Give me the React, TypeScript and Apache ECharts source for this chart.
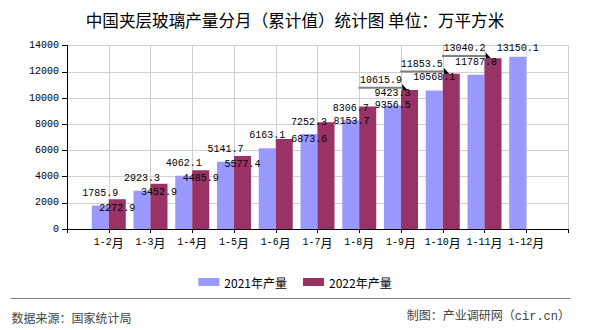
import React, { useEffect, useRef } from "react";
import * as echarts from "echarts";

// ---- data ----
const categories = ["", "1-2月", "1-3月", "1-4月", "1-5月", "1-6月", "1-7月", "1-8月", "1-9月", "1-10月", "1-11月", "1-12月", ""];
const values2021 = [null, 1785.9, 2923.3, 4062.1, 5141.7, 6163.1, 7252.3, 8306.7, 9423.3, 10568.1, 11787.8, 13150.1, null];
const values2022 = [null, 2272.9, 3452.9, 4485.9, 5577.4, 6873.6, 8153.7, 9356.5, 10615.9, 11853.5, 13040.2, null, null];
const seriesNames = ["2021年产量", "2022年产量"];
const yMin = 0;
const yMax = 14000;
const yStep = 2000;
const titleText = "中国夹层玻璃产量分月（累计值）统计图 单位：万平方米";
const sourceText = "数据来源：国家统计局";
const creditText = "制图：产业调研网（cir.cn）";

// ---- label placement (style, not data): [dx, dy] from bar-top centre ----
const shiftA: number[][] = [[0, 0], [0, -12.5], [0, -12.5], [0, -12.5], [0, -12.5], [0, -12.5], [0, -12], [0, -12], [0, -12.5], [0, -13], [0, -12.5], [0, -8.5], [0, 0]];
const shiftB: number[][] = [[0, 0], [0, 9], [0, 8.5], [0, 8.7], [0, 8.7], [25, 0.3], [25.5, -1], [25, -0.8], [-28.5, -9], [-29.5, -8.8], [-28.5, -9.3], [0, 0], [0, 0]];
const leaderCats = [8, 9, 10];

const BAR_W = 17;
const MONO = "'Liberation Mono', 'DejaVu Sans Mono', monospace";
const CJK = "'Noto Sans CJK SC', sans-serif";

function buildData(vals: (number | null)[], shifts: number[][]) {
  return vals.map((v, i) =>
    v == null
      ? null
      : {
          value: v,
          label: {
            position: [BAR_W / 2 + shifts[i][0], shifts[i][1]],
          },
        }
  );
}

export default function App() {
  const ref = useRef<HTMLDivElement>(null);
  useEffect(() => {
    if (!ref.current) return;
    const chart = echarts.init(ref.current, undefined, { renderer: "svg" });
    const labelBase = {
      show: true,
      align: "center",
      verticalAlign: "middle",
      fontFamily: MONO,
      fontSize: 10,
      color: "#000",
    };
    chart.setOption({
      animation: false,
      backgroundColor: "#fff",
      title: {
        text: titleText,
        left: "center",
        top: 7,
        textStyle: { fontFamily: CJK, fontSize: 16.6, fontWeight: "normal", color: "#000" },
      },
      legend: {
        data: seriesNames,
        left: "center",
        top: 271,
        itemWidth: 21,
        itemHeight: 8,
        itemGap: 16,
        icon: "rect",
        textStyle: { fontFamily: CJK, fontSize: 12, color: "#000" },
      },
      grid: { left: 67, right: 22, top: 45.67, bottom: 101, containLabel: false },
      xAxis: {
        type: "category",
        data: categories,
        boundaryGap: false,
        axisLine: { show: true, lineStyle: { color: "#000", width: 1 } },
        axisTick: { show: true, length: 4, interval: 0, lineStyle: { color: "#000" } },
        splitLine: { show: true, interval: 0, lineStyle: { color: "#d0d0d0", width: 1 } },
        axisLabel: {
          interval: 0,
          margin: 7,
          formatter: (v: string) => {
            if (!v) return "";
            const head = v.slice(0, -1);
            return "{a|" + head + "}{b|月}";
          },
          rich: {
            a: { fontFamily: MONO, fontSize: 10, color: "#000" },
            b: { fontFamily: CJK, fontSize: 12, color: "#000" },
          },
        },
      },
      yAxis: {
        type: "value",
        min: yMin,
        max: yMax,
        interval: yStep,
        axisLine: { show: true, lineStyle: { color: "#000", width: 1 } },
        axisTick: { show: true, length: 5, lineStyle: { color: "#000" } },
        splitLine: { show: true, lineStyle: { color: "#d0d0d0", width: 1 } },
        axisLabel: { fontFamily: MONO, fontSize: 10, color: "#000", margin: 8, formatter: (v: number) => String(v) },
      },
      series: [
        {
          name: seriesNames[0],
          type: "bar",
          data: buildData(values2021, shiftA),
          barWidth: BAR_W,
          barGap: "0%",
          itemStyle: { color: "#9999FF" },
          label: labelBase,
        },
        {
          name: seriesNames[1],
          type: "bar",
          data: buildData(values2022, shiftB),
          barWidth: BAR_W,
          barGap: "0%",
          itemStyle: { color: "#993366" },
          label: labelBase,
        },
      ],
    });

    const graphics: any[] = [
      {
        type: "line",
        shape: { x1: 10.5, y1: 298.5, x2: 570.5, y2: 298.5 },
        style: { stroke: "#808080", lineWidth: 1 },
        silent: true,
      },
      {
        type: "text",
        x: 11.5,
        y: 317,
        style: { text: sourceText, font: "12px 'Noto Sans CJK SC', sans-serif", fill: "#444", textVerticalAlign: "middle", textAlign: "left" },
      },
      {
        type: "text",
        x: 570,
        y: 317,
        style: { text: creditText, font: "12px 'Liberation Mono', 'Noto Sans CJK SC', monospace", fill: "#444", textVerticalAlign: "middle", textAlign: "right" },
      },
    ];
    leaderCats.forEach((ci) => {
      const v = values2022[ci] as number;
      const p = chart.convertToPixel({ xAxisIndex: 0, yAxisIndex: 0 }, [ci, v]) as number[];
      const tipX = p[0] + 6.5;
      const tipY = p[1];
      graphics.push({
        type: "line",
        z: 100,
        shape: { x1: tipX - 49, y1: tipY - 2.3, x2: tipX - 5, y2: tipY - 2.3 },
        style: { stroke: "#808080", lineWidth: 2 },
        silent: true,
      });
      graphics.push({
        type: "polygon",
        z: 101,
        shape: { points: [[tipX - 5.5, tipY - 6], [tipX - 5, tipY + 0.3], [tipX, tipY]] },
        style: { fill: "#000" },
        silent: true,
      });
    });
    chart.setOption({ graphic: graphics });

    return () => chart.dispose();
  }, []);
  return <div ref={ref} style={{ position: "fixed", left: 0, top: 0, width: 590, height: 330 }} />;
}
